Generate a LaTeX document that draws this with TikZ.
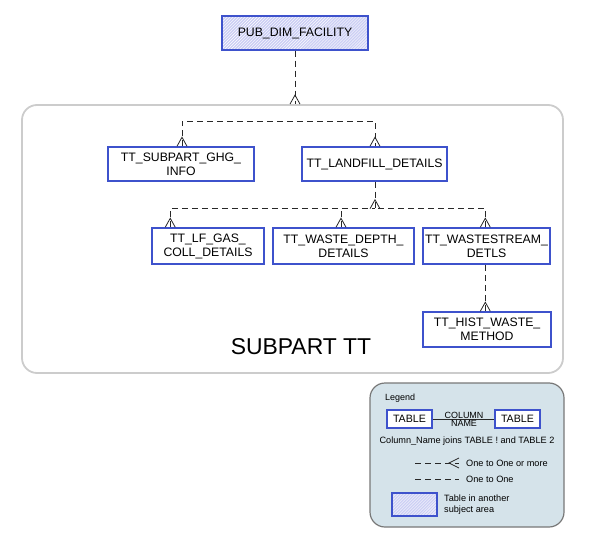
\documentclass[tikz,border=0pt]{standalone}
\usepackage{fontspec}
\setmainfont{Liberation Sans}
\usetikzlibrary{patterns,calc}
\definecolor{boxblue}{RGB}{62,82,204}
\definecolor{lav}{RGB}{204,207,244}
\definecolor{contgray}{RGB}{204,204,204}
\definecolor{legfill}{RGB}{213,227,234}
\definecolor{leggray}{RGB}{120,120,120}
\definecolor{conn}{RGB}{40,40,40}
\newcommand\mycrow[1]{\draw[crow] ([xshift=-5bp]#1) -- ([yshift=9bp]#1) -- ([xshift=5bp]#1);}
\begin{document}
\begin{tikzpicture}[x=1bp,y=-1bp,
 tbl/.style={draw=boxblue, line width=1.5bp, fill=white, inner sep=0pt, align=center, font=\fontsize{12.3}{14}\selectfont},
 ext/.style={tbl, fill=lav, postaction={pattern=north east lines, pattern color=white}, postaction={draw=boxblue, line width=1.5bp}},
 rel/.style={draw=conn, line width=1bp, dash pattern=on 6bp off 4bp},
 crow/.style={draw=conn, line width=0.8bp, solid},
 small/.style={font=\fontsize{9.2}{11}\selectfont, inner sep=1bp},
 tiny/.style={font=\fontsize{9}{10}\selectfont, inner sep=0.5bp},
]
\useasboundingbox (0,0) rectangle (591,543);

% container
\node[draw=contgray, line width=1.8bp, rounded corners=15bp, minimum width=541bp, minimum height=268bp, inner sep=0pt] (sub) at (292.5,239) {};
\node[font=\fontsize{23}{26}\selectfont] (sublabel) at (301,347) {SUBPART TT};

% tables
\node[ext, minimum width=146bp, minimum height=34bp] (pub) at (295,33) {PUB\_DIM\_FACILITY};
\node[tbl, minimum width=146bp, minimum height=34bp] (ghg) at (181,164) {TT\_SUBPART\_GHG\_\\INFO};
\node[tbl, minimum width=145bp, minimum height=34bp] (land) at (374.5,164) {TT\_LANDFILL\_DETAILS};
\node[tbl, minimum width=112bp, minimum height=36bp] (lfgas) at (208,246) {TT\_LF\_GAS\_\\COLL\_DETAILS};
\node[tbl, minimum width=141bp, minimum height=36bp] (wd) at (343.5,246) {TT\_WASTE\_DEPTH\_\\DETAILS};
\node[tbl, minimum width=127bp, minimum height=36bp] (ws) at (486.5,246) {TT\_WASTESTREAM\_\\DETLS};
\node[tbl, minimum width=128bp, minimum height=35bp] (hist) at (487,329.5) {TT\_HIST\_WASTE\_\\METHOD};

% connectors
\coordinate (c1) at (pub.south |- sub.north);
\draw[rel] (pub.south) -- (c1);
\mycrow{c1}

\coordinate (ga) at ([xshift=1bp]ghg.north);
\coordinate (la) at ([xshift=0.5bp]land.north);
\draw[rel] (ga) -- ++(0,-25) -| (la);
\mycrow{ga}
\mycrow{la}

\coordinate (lb) at ([xshift=0.5bp]land.south);
\coordinate (j2) at ([yshift=-27bp]lb);
\draw[rel] (lb) -- (j2);
\mycrow{j2}
\coordinate (lfa) at ([xshift=19bp]lfgas.north west);
\coordinate (wda) at ([xshift=-2.5bp]wd.north);
\coordinate (wsa) at ([xshift=-1.2bp]ws.north);
\draw[rel] (lfa) |- (j2);
\draw[rel] (wsa) |- (j2);
\draw[rel] (wda) -- (wda |- j2);
\mycrow{lfa}
\mycrow{wda}
\mycrow{wsa}

\coordinate (wsb) at ([xshift=-1.2bp]ws.south);
\coordinate (ha) at (wsb |- hist.north);
\draw[rel] (wsb) -- (ha);
\mycrow{ha}

% legend
\node[draw=leggray, fill=legfill, line width=1.2bp, rounded corners=15bp, minimum width=194bp, minimum height=144bp, inner sep=0pt] (leg) at (467,455) {};
\node[anchor=west, font=\fontsize{9}{10}\selectfont, inner sep=0pt] (legt) at (385,398) {Legend};
\node[tbl, minimum width=45bp, minimum height=18bp, font=\fontsize{10.7}{12}\selectfont] (t1) at (409.5,419) {TABLE};
\node[tbl, minimum width=45bp, minimum height=18bp, font=\fontsize{10.7}{12}\selectfont] (t2) at (517.5,419) {TABLE};
\draw[draw=conn, line width=0.8bp] (t1.east) -- (t2.west);
\node[tiny, anchor=south] (colw) at (464,419) {COLUMN};
\node[tiny, anchor=north] (namew) at (464,419.5) {NAME};
\node[small] (joins) at (467,441) {Column\_Name joins TABLE ! and TABLE 2};

\node[small, anchor=west] (om) at (465,463) {One to One or more};
\node[small, anchor=west] (oo) at (465,479) {One to One};
\coordinate (l1a) at (415,463);
\coordinate (l1b) at ([xshift=-6bp]om.west);
\draw[rel] (l1a) -- (l1b);
\draw[crow] ([yshift=5bp]l1b) -- ([xshift=-10bp]l1b) -- ([yshift=-5bp]l1b);
\coordinate (l2a) at (415,479);
\coordinate (l2b) at ([xshift=-6bp]oo.west);
\draw[rel] (l2a) -- (l2b);

\node[ext, minimum width=45bp, minimum height=23bp] (hb) at (414.5,504.5) {};
\node[small, anchor=west, align=left] (hbt) at (443,505) {Table in another\\subject area};
\end{tikzpicture}
\end{document}
